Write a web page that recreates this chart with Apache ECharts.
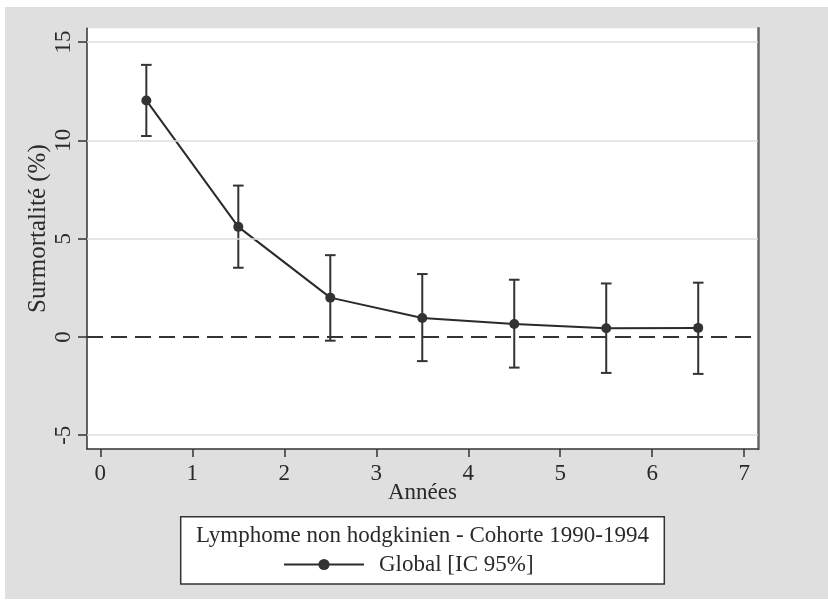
<!DOCTYPE html>
<html>
<head>
<meta charset="utf-8">
<script src="https://cdn.jsdelivr.net/npm/echarts@6/dist/echarts.min.js"></script>
<style>
  html, body { margin: 0; padding: 0; background: #ffffff; }
  #bg { position: absolute; left: 5px; top: 7px; width: 823px; height: 592px; background: #dfdfdf; }
  #chart { position: absolute; left: 0; top: 0; width: 828px; height: 606px; }
</style>
</head>
<body>
<div id="bg"></div>
<div id="chart"></div>
<script>
// Data
const years = [0.5, 1.5, 2.5, 3.5, 4.5, 5.5, 6.5];
const excess = [12.03, 5.60, 2.00, 0.96, 0.66, 0.44, 0.46];
const ciLow  = [10.22, 3.52, -0.19, -1.23, -1.56, -1.83, -1.88];
const ciHigh = [13.84, 7.70, 4.16, 3.20, 2.91, 2.72, 2.76];
const xTicks = [0, 1, 2, 3, 4, 5, 6, 7];
const yTicks = [-5, 0, 5, 10, 15];
const gridValues = [-5, 5, 10, 15];
const seriesName = 'Global [IC 95%]';
const legendTitle = 'Lymphome non hodgkinien - Cohorte 1990-1994';
const xName = 'Années';
const yName = 'Surmortalité (%)';

const FONT = 'Liberation Serif';
const INK = '#2a2a2a';

const lineData = years.map((x, i) => [x, excess[i]]);
const barData = years.map((x, i) => [x, ciLow[i], ciHigh[i]]);

const chart = echarts.init(document.getElementById('chart'));

chart.setOption({
  backgroundColor: 'transparent',
  animation: false,
  textStyle: { fontFamily: FONT },
  grid: {
    left: 87, right: 70, top: 28.3, bottom: 157,
    show: true, backgroundColor: '#ffffff', borderWidth: 0
  },
  xAxis: {
    type: 'value', min: -0.145, max: 7.15,
    name: xName, nameLocation: 'middle', nameGap: 32, nameMoveOverlap: false,
    nameTextStyle: { fontFamily: FONT, fontSize: 23, color: INK },
    axisLine: { show: true, onZero: false, lineStyle: { color: '#333', width: 1.5 } },
    axisTick: { show: true, length: 8, customValues: xTicks, lineStyle: { color: '#333', width: 1.5 } },
    axisLabel: { customValues: xTicks, margin: 13, fontFamily: FONT, fontSize: 23, color: INK },
    splitLine: { show: false }
  },
  yAxis: [{
    type: 'value', min: -5.7, max: 15.7,
    name: yName, nameLocation: 'middle', nameGap: 36, nameMoveOverlap: false,
    nameTextStyle: { fontFamily: FONT, fontSize: 25, color: INK, padding: [0, 0, 0, 20] },
    axisLine: { show: true, onZero: false, lineStyle: { color: '#333', width: 1.5 } },
    axisTick: { show: true, length: 9, customValues: yTicks, lineStyle: { color: '#333', width: 1.5 } },
    axisLabel: { customValues: yTicks, rotate: 90, margin: 12, fontFamily: FONT, fontSize: 23, color: INK },
    splitLine: { show: false }
  }, {
    type: 'value', min: -5.7, max: 15.7, position: 'right',
    axisLine: { show: true, onZero: false, lineStyle: { color: '#666', width: 2.5 } },
    axisTick: { show: false }, axisLabel: { show: false }, splitLine: { show: false }
  }],
  legend: {
    data: [seriesName],
    left: 278, top: 548,
    itemWidth: 80, itemHeight: 14,
    z: 100,
    textStyle: { fontFamily: FONT, fontSize: 23, color: INK, padding: [0, 0, 0, 10] }
  },
  graphic: [{
    type: 'rect', z: 0, silent: true,
    shape: { x: 180.7, y: 516.7, width: 483.6, height: 67.3 },
    style: { fill: '#ffffff', stroke: '#333', lineWidth: 1.5 }
  }, {
    type: 'text', z: 1, silent: true,
    x: 422.5, y: 535.5,
    style: { text: legendTitle, fontFamily: FONT, fontSize: 23, fill: INK, align: 'center', verticalAlign: 'middle' }
  }],
  series: [{
    name: '_grid', type: 'line', data: lineData, z: 1, silent: true,
    symbol: 'none', lineStyle: { opacity: 0 },
    markLine: {
      silent: true, symbol: 'none', label: { show: false },
      data: gridValues.map(v => ({ yAxis: v, lineStyle: { color: '#dcdcdc', width: 1.5, type: 'solid' } }))
        .concat([{ yAxis: 0, lineStyle: { color: '#333', width: 2, type: [16, 8] } }])
    }
  }, {
    name: 'ci', type: 'custom', data: barData, z: 3, silent: true,
    renderItem: function (params, api) {
      const x = api.value(0);
      const lo = api.coord([x, api.value(1)]);
      const hi = api.coord([x, api.value(2)]);
      const cap = 5.3;
      const st = { stroke: '#333', lineWidth: 2 };
      return {
        type: 'group',
        children: [
          { type: 'line', shape: { x1: lo[0], y1: lo[1], x2: hi[0], y2: hi[1] }, style: st },
          { type: 'line', shape: { x1: lo[0] - cap, y1: lo[1], x2: lo[0] + cap, y2: lo[1] }, style: st },
          { type: 'line', shape: { x1: hi[0] - cap, y1: hi[1], x2: hi[0] + cap, y2: hi[1] }, style: st }
        ]
      };
    }
  }, {
    name: seriesName, type: 'line', data: lineData, z: 4,
    symbol: 'circle', symbolSize: 10,
    itemStyle: { color: '#333' },
    lineStyle: { color: '#2a2a2a', width: 2 }
  }]
});
</script>
</body>
</html>
